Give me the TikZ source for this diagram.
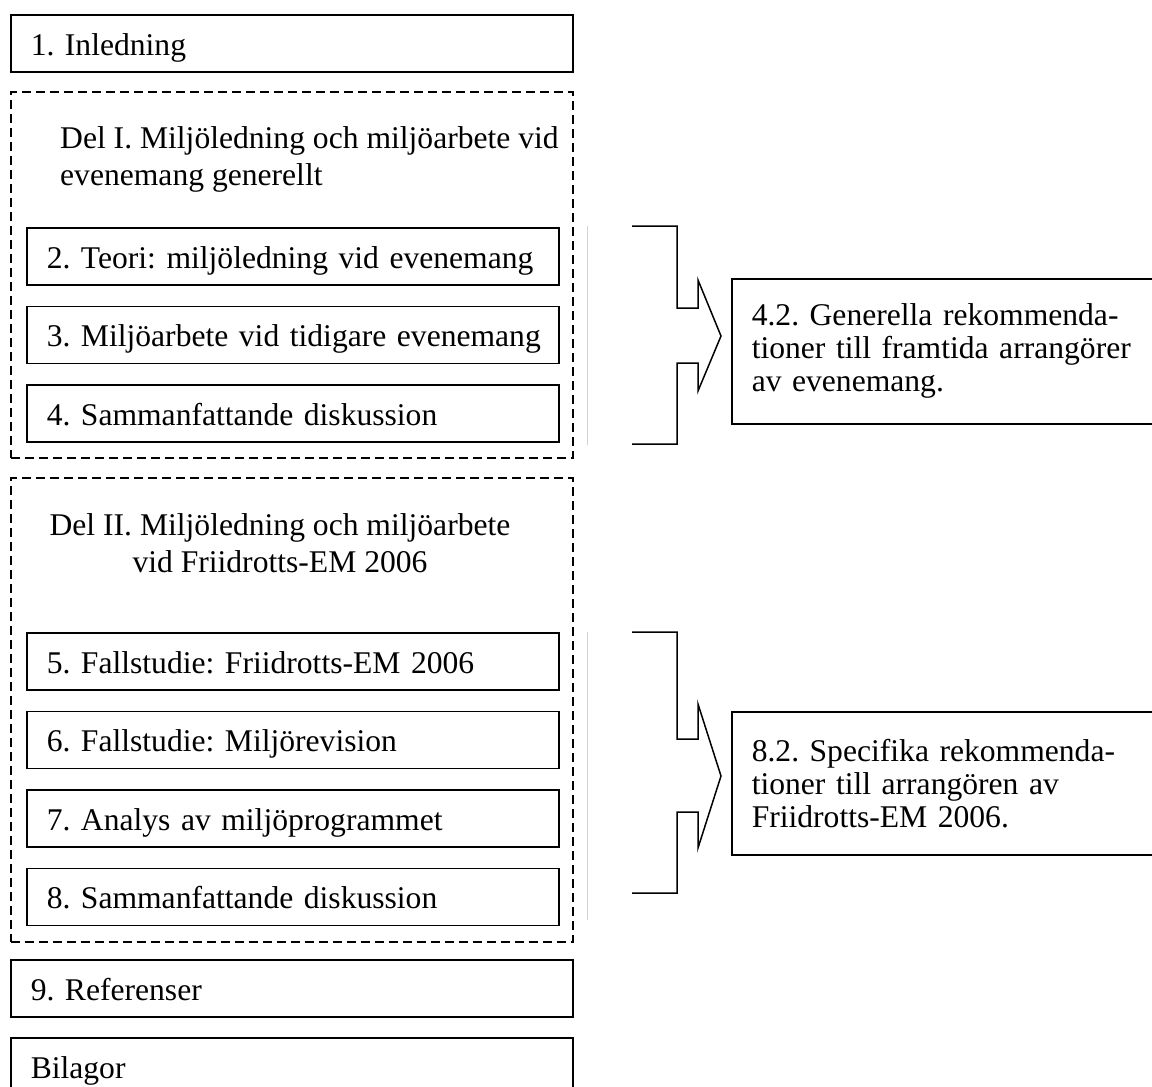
\documentclass[tikz,border=0pt]{standalone}
\usepackage{fontspec}
\setmainfont{Liberation Serif}
\usetikzlibrary{positioning}

\begin{document}
\begin{tikzpicture}[x=1pt,y=-1pt,node distance=20pt,
                    every node/.style={font=\fontsize{31.6}{37}\selectfont\frenchspacing},
                    box/.style={draw,line width=1.5pt,anchor=north west,
                    minimum height=57pt,inner xsep=20pt,inner ysep=0pt,
                    text height=30pt,text depth=6pt,align=left},
                    wide/.style={box,minimum width=562pt,text width=522pt},
                    item/.style={box,minimum width=532pt,text width=492pt},
                    part/.style={draw,dash pattern=on 9pt off 5pt,line width=1.5pt,
                    anchor=north west,minimum width=562pt,inner sep=0pt},
                    head/.style={inner sep=0pt},
                    rec/.style={draw,line width=1.5pt,anchor=north west,
                    minimum width=440pt,text width=400pt,inner xsep=20pt,align=left,
                    font=\fontsize{31.6}{33}\selectfont\frenchspacing},
                    brace/.style={line width=1.5pt,line join=miter},
                    rule/.style={gray!35,line width=1pt}]
\useasboundingbox (0,0) rectangle (1152,1087);
\clip (0,0) rectangle (1152,1087);

\node[wide] (INTRO) at(10,14) {1. Inledning};

\node[part,minimum height=366pt] (PART1) at(10,91) {};
\node[head,anchor=north west,align=left] (HEAD1) at(60,126)
     {Del I. Miljöledning och miljöarbete vid\\evenemang generellt};
\node[item] (T2) at(26,227) {\mbox{2. Teori: miljöledning vid evenemang}};
\node[item] (T3) [below=of T2] {\mbox{3. Miljöarbete vid tidigare evenemang}};
\node[item] (T4) [below=of T3] {4. Sammanfattande diskussion};

\node[part,minimum height=464pt] (PART2) at(10,477) {};
\node[head,anchor=north,align=center] (HEAD2) at(280,513)
     {Del II. Miljöledning och miljöarbete\\vid Friidrotts-EM 2006};
\node[item] (T5) at(26,632) {5. Fallstudie: Friidrotts-EM 2006};
\node[item] (T6) [below=of T5] {6. Fallstudie: Miljörevision};
\node[item] (T7) [below=of T6] {7. Analys av miljöprogrammet};
\node[item] (T8) [below=of T7] {8. Sammanfattande diskussion};

\node[wide] (REF) at(10,959) {9. Referenser};
\node[wide] (APP) at(10,1037) {Bilagor};

\node[rec,minimum height=145pt] (REC1) at(731,278)
     {4.2. Generella rekommenda-\\tioner till framtida arrangörer\\av evenemang.};
\node[rec,minimum height=143pt] (REC2) at(731,711)
     {8.2. Specifika rekommenda-\\tioner till arrangören av\\Friidrotts-EM 2006.};

\draw[brace] (632,226) -| (677,308) -- (698,308) -- (698,280) -- (721,336)
      -- (698,391) -- (698,363) -| (677,444) -- (632,444);
\draw[brace] (632,632) -| (677,739) -- (698,739) -- (698,704) -- (721,776)
      -- (698,848) -- (698,812) -| (677,893) -- (632,893);

\draw[rule] (587,226) -- (587,445);
\draw[rule] (587,632) -- (587,920);
\end{tikzpicture}
\end{document}
